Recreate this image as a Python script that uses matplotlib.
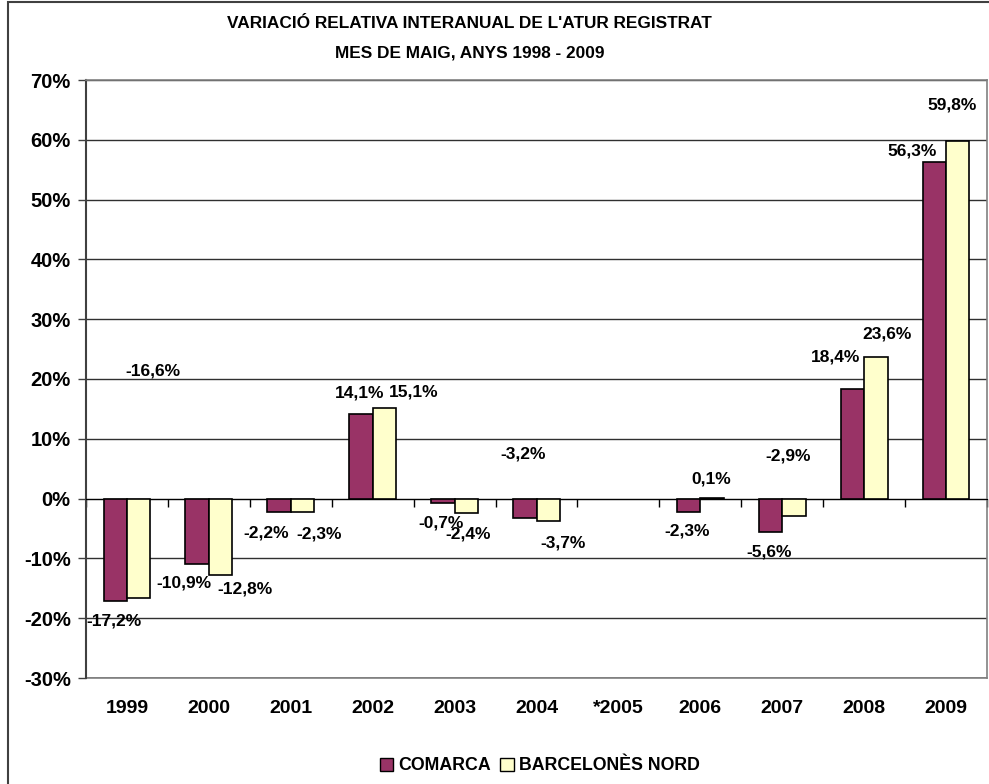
import numpy as np
import matplotlib
matplotlib.use("Agg")
import matplotlib.pyplot as plt
from matplotlib.patches import Rectangle, Patch
from matplotlib.ticker import FuncFormatter

plt.rcParams["font.family"] = ["Liberation Sans", "DejaVu Sans"]
plt.rcParams["font.weight"] = "bold"
plt.rcParams["axes.unicode_minus"] = False

# data
years = ["1999", "2000", "2001", "2002", "2003", "2004", "*2005", "2006", "2007", "2008", "2009"]
comarca = [-17.2, -10.9, -2.2, 14.1, -0.7, -3.2, np.nan, -2.3, -5.6, 18.4, 56.3]
barcelones_nord = [-16.6, -12.8, -2.3, 15.1, -2.4, -3.7, np.nan, 0.1, -2.9, 23.6, 59.8]
series_names = ["COMARCA", "BARCELONÈS NORD"]

# where the labels ended up in the original (category offset, y value)
comarca_lbl = [(-0.16, -20.4), (-0.30, -14.1), (-0.30, -5.7), (-0.16, 17.6), (-0.16, -4.0),
               (-0.16, 7.5), None, (-0.16, -5.4), (-0.16, -9.0), (-0.35, 23.6), (-0.41, 58.1)]
bn_lbl = [(0.32, 21.4), (0.44, -15.1), (0.35, -5.9), (0.50, 17.9), (0.16, -5.9),
          (0.32, -7.5), None, (0.13, 3.35), (0.07, 7.2), (0.28, 27.6), (0.07, 65.8)]

COL_C = "#993366"
COL_B = "#FFFFCC"


def fmt_pct(v):
    return f"{v:.1f}".replace(".", ",") + "%"


fig = plt.figure(figsize=(9.89, 7.84), dpi=100)
ax = fig.add_axes([86 / 989, 106 / 784, 901 / 989, 598 / 784])

x = np.arange(len(years))
w = 1 / 3.5
ax.bar(x - w / 2, comarca, w, color=COL_C, edgecolor="black", linewidth=1.2, zorder=3)
ax.bar(x + w / 2, barcelones_nord, w, color=COL_B, edgecolor="black", linewidth=1.2, zorder=3)

for i in range(len(years)):
    for vals, lbl in ((comarca, comarca_lbl), (barcelones_nord, bn_lbl)):
        if lbl[i] is None or np.isnan(vals[i]):
            continue
        dx, yy = lbl[i]
        ax.text(i + dx, yy, fmt_pct(vals[i]), ha="center", va="center",
                fontsize=12.5, fontweight="bold", zorder=4)

ax.set_xlim(-0.5, len(years) - 0.5)
ax.set_ylim(-30, 70)
ax.set_yticks(np.arange(-30, 71, 10))
ax.yaxis.set_major_formatter(FuncFormatter(lambda v, p: f"{v:.0f}%"))
ax.tick_params(axis="y", direction="out", length=6, width=1, colors="#404040",
               labelcolor="black", labelsize=14.5, pad=5)
ax.yaxis.grid(True, color="#303030", linewidth=1)
ax.set_axisbelow(True)

# category axis sits at 0%
ax.spines["bottom"].set_position(("data", 0))
ax.spines["bottom"].set_color("black")
ax.set_xticks(np.arange(len(years) + 1) - 0.5)
ax.tick_params(axis="x", direction="out", length=6, width=1, labelbottom=False)
ax.spines["left"].set_color("#404040")
ax.spines["left"].set_linewidth(1.5)
for s in ("top", "right"):
    ax.spines[s].set_color("#808080")
    ax.spines[s].set_linewidth(1.2)

sec = ax.secondary_xaxis("bottom")
sec.set_xticks(x, labels=years)
sec.tick_params(length=0, pad=16, labelsize=14)
sec.spines["bottom"].set_color("#808080")
sec.spines["bottom"].set_linewidth(1.2)

fig.text(0.475, 1 - 24 / 784, "VARIACIÓ RELATIVA INTERANUAL DE L'ATUR REGISTRAT",
         ha="center", va="center", fontsize=12.4, fontweight="bold")
fig.text(0.475, 1 - 53 / 784, "MES DE MAIG, ANYS 1998 - 2009",
         ha="center", va="center", fontsize=12.4, fontweight="bold")

handles = [Patch(facecolor=COL_C, edgecolor="black"), Patch(facecolor=COL_B, edgecolor="black")]
fig.legend(handles, series_names, loc="center", bbox_to_anchor=(540 / 989, 1 - 766 / 784),
           ncol=2, frameon=False, handlelength=0.75, handleheight=0.75,
           handletextpad=0.3, columnspacing=0.5, prop={"weight": "bold", "size": 12.8})

fig.patches.append(Rectangle((8 / 989, -0.5), 2, 0.5 + 1 - 2 / 784, transform=fig.transFigure,
                             fill=False, edgecolor="#404040", linewidth=1.5))

fig.savefig("out.png", dpi=100)
